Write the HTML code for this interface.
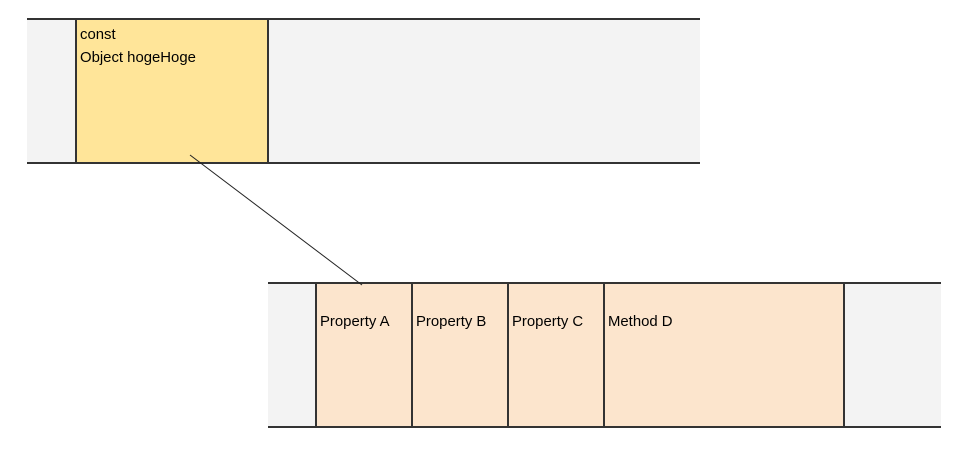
<!DOCTYPE html>
<html><head><style>
body{margin:0;width:960px;height:451px;background:#fff;position:relative;overflow:hidden;font-family:"Liberation Sans",sans-serif;font-size:14.9px;color:#000}
.a{position:absolute;box-sizing:border-box}
</style></head><body>
<div class="a" style="left:27px;top:18px;width:673px;height:146px;background:#f3f3f3;border-top:2px solid #333;border-bottom:2px solid #333"></div>
<div class="a" style="left:75px;top:18px;width:194px;height:146px;background:#ffe599;border:2px solid #333"></div>
<div class="a" style="left:80px;top:27px">const</div>
<div class="a" style="left:80px;top:50px">Object hogeHoge</div>
<div class="a" style="left:268px;top:282px;width:673px;height:146px;background:#f3f3f3;border-top:2px solid #333;border-bottom:2px solid #333"></div>
<div class="a" style="left:315px;top:282px;width:98px;height:146px;background:#fce5cd;border:2px solid #333"></div>
<div class="a" style="left:411px;top:282px;width:98px;height:146px;background:#fce5cd;border:2px solid #333"></div>
<div class="a" style="left:507px;top:282px;width:98px;height:146px;background:#fce5cd;border:2px solid #333"></div>
<div class="a" style="left:603px;top:282px;width:242px;height:146px;background:#fce5cd;border:2px solid #333"></div>
<div class="a" style="left:320px;top:314px">Property A</div>
<div class="a" style="left:416px;top:314px">Property B</div>
<div class="a" style="left:512px;top:314px">Property C</div>
<div class="a" style="left:608px;top:314px">Method D</div>
<svg class="a" style="left:0;top:0" width="960" height="451"><line x1="190" y1="155" x2="362" y2="285" stroke="#222" stroke-width="1"/></svg>
</body></html>
